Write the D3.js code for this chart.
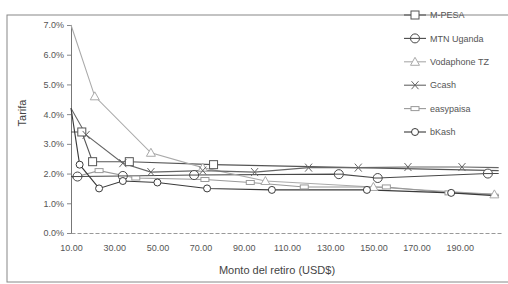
<!DOCTYPE html>
<html>
<head>
<meta charset="utf-8">
<script src="https://cdn.jsdelivr.net/npm/d3@7"></script>
<style>
	body { margin: 0; background: #fff; }
	svg { font-family: 'Liberation Sans', Arial, sans-serif; }
</style>
</head>
<body>
<div id="chart"></div>
<script>
	// values: [withdrawal USD, fee %]
	const mpesa = [[10, 3.4], [15, 3.4], [20, 2.4], [37, 2.4], [76, 2.3], [208, 2.1]];
	const mtnUganda = [[10, 1.9], [13, 1.9], [34, 1.92], [67, 1.95], [134, 1.98], [152, 1.85], [203, 2.0], [208, 2.0]];
	const vodaphoneTz = [[10, 7.0], [21, 4.6], [47, 2.7], [71, 2.2], [100, 1.75], [150, 1.55], [206, 1.3]];
	const gcash = [[10, 4.2], [17, 3.3], [34, 2.35], [47, 2.05], [71, 2.1], [95, 2.05], [120, 2.2], [143, 2.2], [166, 2.22], [191, 2.22], [208, 2.2]];
	const easypaisa = [[10, 1.85], [23, 2.1], [40, 1.85], [72, 1.8], [93, 1.7], [118, 1.55], [156, 1.55], [185, 1.35], [208, 1.3]];
	const bkash = [[10, 4.2], [14, 2.3], [23, 1.5], [34, 1.75], [50, 1.7], [73, 1.5], [103, 1.45], [147, 1.45], [186, 1.35], [208, 1.25]];

	const seriesNames = ['M-PESA', 'MTN Uganda', 'Vodaphone TZ', 'Gcash', 'easypaisa', 'bKash'];
	const xTicks = [10, 30, 50, 70, 90, 110, 130, 150, 170, 190];
	const yTicks = [0, 1, 2, 3, 4, 5, 6, 7];

	const series = [
		{ name: seriesNames[0], values: mpesa, color: '#555', marker: 'square' },
		{ name: seriesNames[1], values: mtnUganda, color: '#484848', marker: 'circleBar' },
		{ name: seriesNames[2], values: vodaphoneTz, color: '#aaa', marker: 'triangle' },
		{ name: seriesNames[3], values: gcash, color: '#666', marker: 'cross' },
		{ name: seriesNames[4], values: easypaisa, color: '#999', marker: 'dash' },
		{ name: seriesNames[5], values: bkash, color: '#3a3a3a', marker: 'circle' }
	];

	const W = 508, H = 284;
	const svg = d3.select('#chart').append('svg')
		.attr('width', W)
		.attr('height', H);

	// outer border of the scanned chart
	svg.append('rect')
		.attr('x', 7).attr('y', 15)
		.attr('width', 520).attr('height', 267)
		.style('fill', 'none')
		.style('stroke', '#888')
		.style('stroke-width', 1);

	const x = d3.scaleLinear().domain([10, 210]).range([71, 503]);
	const y = d3.scaleLinear().domain([0, 7]).range([233, 25]);

	const xAxis = d3.axisBottom(x)
		.tickValues(xTicks)
		.tickSize(0)
		.tickPadding(12)
		.tickFormat(d3.format('.2f'));
	const yAxis = d3.axisLeft(y)
		.tickValues(yTicks)
		.tickSize(4)
		.tickPadding(3)
		.tickFormat(d => d.toFixed(1) + '%');

	const xAxisG = svg.append('g')
		.attr('transform', `translate(0, ${y(0)})`)
		.call(xAxis);
	xAxisG.select('.domain')
		.style('stroke', '#999')
		.style('stroke-dasharray', '4, 2');
	xAxisG.selectAll('text')
		.style('font-size', '9px')
		.style('fill', '#555');

	const yAxisG = svg.append('g')
		.attr('transform', `translate(${x(10)}, 0)`)
		.call(yAxis);
	yAxisG.select('.domain').style('stroke', '#777');
	yAxisG.selectAll('line').style('stroke', '#888');
	yAxisG.selectAll('text')
		.style('font-size', '9px')
		.style('fill', '#555');

	// axis titles
	svg.append('text')
		.attr('transform', 'rotate(-90)')
		.attr('x', -113)
		.attr('y', 26)
		.style('font-size', '11px')
		.style('fill', '#444')
		.style('text-anchor', 'middle')
		.text('Tarifa');
	svg.append('text')
		.attr('x', 277)
		.attr('y', 274)
		.style('font-size', '11px')
		.style('fill', '#444')
		.style('text-anchor', 'middle')
		.text('Monto del retiro (USD$)');

	const drawMarker = (g, type, color, cx, cy) => {
		if (type === 'square') {
			g.append('rect').attr('x', cx - 4).attr('y', cy - 4).attr('width', 8).attr('height', 8)
				.style('fill', '#fff').style('stroke', color).style('stroke-width', 1);
		} else if (type === 'circleBar') {
			g.append('circle').attr('cx', cx).attr('cy', cy).attr('r', 4.5)
				.style('fill', '#fff').style('stroke', color).style('stroke-width', 1);
			g.append('line').attr('x1', cx - 4.5).attr('x2', cx + 4.5).attr('y1', cy).attr('y2', cy)
				.style('stroke', color).style('stroke-width', 1);
		} else if (type === 'triangle') {
			g.append('path').attr('d', `M${cx},${cy - 4.5}L${cx + 4.5},${cy + 3.5}L${cx - 4.5},${cy + 3.5}Z`)
				.style('fill', '#fff').style('stroke', color).style('stroke-width', 1);
		} else if (type === 'cross') {
			g.append('path').attr('d', `M${cx - 3.5},${cy - 4}L${cx + 3.5},${cy + 4}M${cx + 3.5},${cy - 4}L${cx - 3.5},${cy + 4}`)
				.style('stroke', color).style('stroke-width', 1);
		} else if (type === 'dash') {
			g.append('rect').attr('x', cx - 4).attr('y', cy - 2).attr('width', 8).attr('height', 4)
				.style('fill', '#fff').style('stroke', color).style('stroke-width', 1);
		} else {
			g.append('circle').attr('cx', cx).attr('cy', cy).attr('r', 3.5)
				.style('fill', '#fff').style('stroke', color).style('stroke-width', 1);
		}
	};

	const lineFunc = d3.line()
		.x(d => x(d[0]))
		.y(d => y(d[1]));

	const plot = svg.append('g');
	series.forEach(s => {
		plot.append('path')
			.attr('d', lineFunc(s.values))
			.style('fill', 'none')
			.style('stroke', s.color)
			.style('stroke-width', 1.1);
	});
	series.forEach(s => {
		const g = plot.append('g');
		// points on the axis and the ones running off the right edge show no marker
		s.values
			.filter(d => d[0] > 10 && d[0] < 208)
			.forEach(d => drawMarker(g, s.marker, s.color, x(d[0]), y(d[1])));
	});

	// legend
	const legend = svg.append('g');
	series.forEach((s, i) => {
		const ly = 15 + i * 23.4;
		legend.append('line')
			.attr('x1', 404).attr('x2', 426)
			.attr('y1', ly).attr('y2', ly)
			.style('stroke', s.color)
			.style('stroke-width', 1.1);
		drawMarker(legend, s.marker, s.color, 415, ly);
		legend.append('text')
			.attr('x', 430)
			.attr('y', ly)
			.attr('dy', '0.35em')
			.style('font-size', '9px')
			.style('fill', '#555')
			.text(s.name);
	});
</script>
</body>
</html>
